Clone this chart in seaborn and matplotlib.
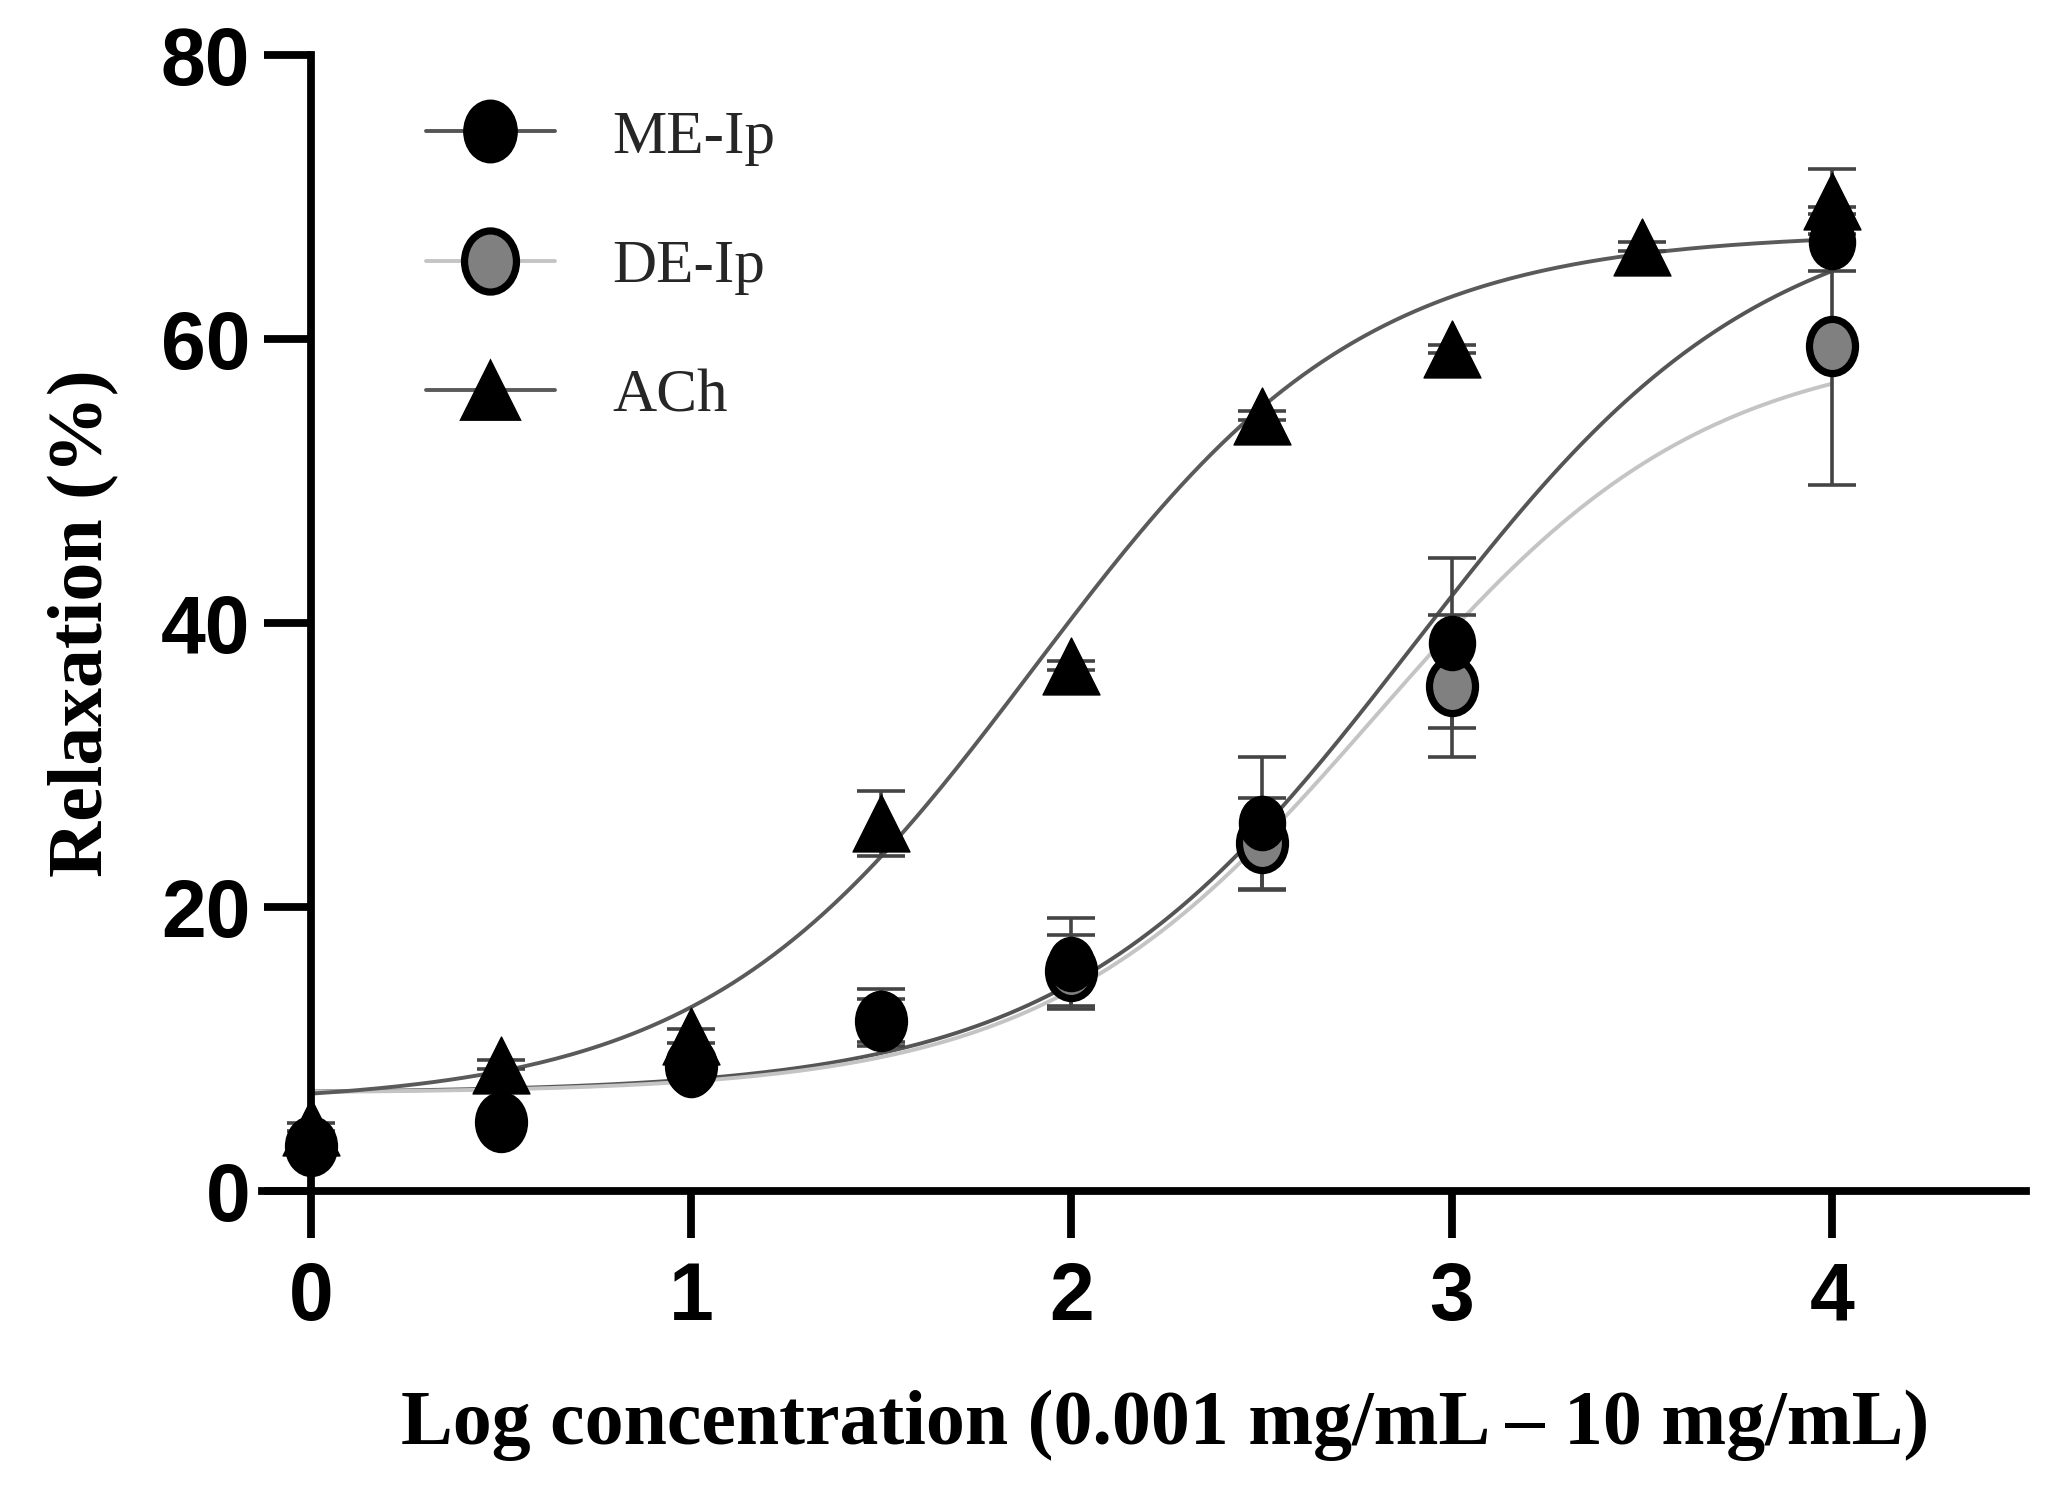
import numpy as np
import pandas as pd
import matplotlib
matplotlib.use("Agg")
import matplotlib.pyplot as plt
from matplotlib.path import Path
from matplotlib.transforms import Affine2D
from matplotlib.lines import Line2D
import seaborn as sns

# Data
log_conc = [0, 0.5, 1, 1.5, 2, 2.5, 3, 4]
me_ip = [3.2, 4.8, 8.5, 12.2, 16.0, 25.9, 38.6, 66.8]
me_ip_err = [0.3, 0.3, 0.5, 2.0, 3.2, 4.7, 6.0, 2.0]
de_ip = [3.2, 4.9, 8.8, 12.0, 15.5, 24.5, 35.6, 59.5]
de_ip_err = [0.3, 0.3, 0.5, 1.5, 2.5, 3.2, 5.0, 9.8]

ach_conc = [0, 0.5, 1, 1.5, 2, 2.5, 3, 3.5, 4]
ach = [4.5, 8.9, 10.9, 25.9, 37.0, 54.6, 59.3, 66.5, 69.7]
ach_err = [0.3, 0.3, 0.5, 2.3, 0.3, 0.3, 0.3, 0.3, 2.3]

# 4PL fit parameters: bottom, top, logEC50, hill
me_fit = [6.9, 70.0, 2.9, 0.95]
de_fit = [6.9, 60.0, 2.8, 1.0]
ach_fit = [6.1, 67.5, 1.9, 1.0]

x_ticks = [0, 1, 2, 3, 4]
y_ticks = [0, 20, 40, 60, 80]


def four_pl(x, p):
    bottom, top, ec50, hill = p
    return bottom + (top - bottom) / (1 + 10 ** ((ec50 - x) * hill))


sns.set_style("ticks")
plt.rcParams["font.family"] = ["Liberation Sans", "DejaVu Sans"]

# ellipse marker (the source figure is stretched vertically)
ellipse = Path.unit_circle().transformed(Affine2D().scale(0.85, 1.0))

fig = plt.figure(figsize=(10.23, 7.435), dpi=200)
ax = fig.add_axes([0.128, 0.199, 0.862, 0.764])

xs = np.linspace(0, 4, 300)
curves = pd.DataFrame({
    "x": np.concatenate([xs, xs, xs]),
    "y": np.concatenate([four_pl(xs, me_fit), four_pl(xs, de_fit), four_pl(xs, ach_fit)]),
    "series": ["ME-Ip"] * len(xs) + ["DE-Ip"] * len(xs) + ["ACh"] * len(xs),
})
line_colors = {"ME-Ip": "#555555", "DE-Ip": "#c4c4c4", "ACh": "#5a5a5a"}
sns.lineplot(data=curves, x="x", y="y", hue="series", palette=line_colors,
             linewidth=1.4, legend=False, ax=ax, zorder=2)

err_kw = dict(fmt="none", ecolor="#444444", elinewidth=1.3, capsize=8.5, capthick=1.3, zorder=3)
ax.errorbar(log_conc, de_ip, yerr=de_ip_err, **err_kw)
ax.errorbar(log_conc, me_ip, yerr=me_ip_err, **err_kw)
ax.errorbar(ach_conc, ach, yerr=ach_err, **err_kw)

pts_de = pd.DataFrame({"x": log_conc, "y": de_ip})
pts_me = pd.DataFrame({"x": log_conc, "y": me_ip})
pts_ach = pd.DataFrame({"x": ach_conc, "y": ach})
sns.scatterplot(data=pts_de, x="x", y="y", marker=ellipse, s=380, color="#808080",
                edgecolor="black", linewidth=2.6, ax=ax, zorder=4)
sns.scatterplot(data=pts_me, x="x", y="y", marker=ellipse, s=380, color="black",
                edgecolor="black", linewidth=0.5, ax=ax, zorder=5)
sns.scatterplot(data=pts_ach, x="x", y="y", marker="^", s=420, color="black",
                edgecolor="black", linewidth=0.5, ax=ax, zorder=5)

sns.despine(ax=ax)
ax.spines["left"].set_position(("data", 0))
ax.spines["left"].set_bounds(0, 80)
for s in ["left", "bottom"]:
    ax.spines[s].set_linewidth(2.8)
    ax.spines[s].set_color("black")

ax.set_xlim(-0.13, 4.51)
ax.set_ylim(0, 80)
ax.set_xticks(x_ticks)
ax.set_yticks(y_ticks)
ax.set_xticklabels([str(t) for t in x_ticks], fontsize=29, fontweight="bold", color="black")
ax.set_yticklabels([str(t) for t in y_ticks], fontsize=29, fontweight="bold", color="black")
ax.tick_params(axis="both", length=17, width=2.8, color="black")
ax.tick_params(axis="x", pad=8)
ax.tick_params(axis="y", pad=5)

serif = ["Liberation Serif", "DejaVu Serif"]
ax.set_xlabel("Log concentration (0.001 mg/mL \u2013 10 mg/mL)", fontsize=28,
              fontweight="bold", family=serif, color="black")
ax.set_ylabel("Relaxation (%)", fontsize=28, fontweight="bold", family=serif, color="black")
ax.xaxis.set_label_coords(0.512, -0.175)
ax.yaxis.set_label_coords(-0.081, 0.5)

handles = [
    Line2D([], [], color=line_colors["ME-Ip"], lw=1.4, marker=ellipse, ms=22,
           mfc="black", mec="black"),
    Line2D([], [], color=line_colors["DE-Ip"], lw=1.4, marker=ellipse, ms=22,
           mfc="#808080", mec="black", mew=2.6),
    Line2D([], [], color=line_colors["ACh"], lw=1.4, marker="^", ms=21,
           mfc="black", mec="black"),
]
ax.legend(handles, ["ME-Ip", "DE-Ip", "ACh"], loc="upper left",
          bbox_to_anchor=(0.062, 1.0), frameon=False, handlelength=2.1,
          handletextpad=0.95, labelspacing=1.2,
          prop={"family": serif, "size": 22})

fig.savefig("out.png", dpi=200)
